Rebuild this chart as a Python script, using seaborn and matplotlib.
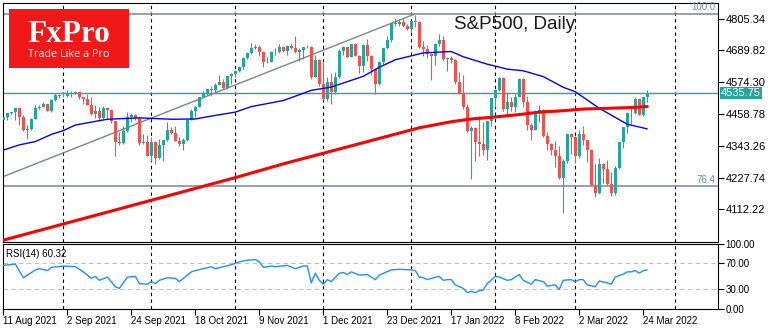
import matplotlib
matplotlib.use("Agg")
import matplotlib.pyplot as plt
import matplotlib.transforms as mtransforms
from matplotlib.patches import Rectangle
import numpy as np
import pandas as pd
import seaborn as sns

# ---------------- data ----------------
date_tick_idx = [0, 16, 32, 48, 64, 80, 96, 112, 128, 144, 160]
date_labels = ["11 Aug 2021", "2 Sep 2021", "24 Sep 2021", "18 Oct 2021", "9 Nov 2021",
               "1 Dec 2021", "23 Dec 2021", "17 Jan 2022", "8 Feb 2022", "2 Mar 2022",
               "24 Mar 2022"]
month_sep_idx = [15, 37, 58, 80, 102, 123, 143, 168]

opens = [4437, 4448, 4461, 4468, 4480, 4448, 4400, 4406, 4442, 4480,
         4486, 4496, 4470, 4509, 4529, 4523, 4524, 4537, 4535, 4538,
         4520, 4514, 4493, 4459, 4469, 4443, 4481, 4474, 4433, 4358,
         4354, 4396, 4449, 4455, 4443, 4353, 4359, 4308, 4357, 4300,
         4346, 4364, 4400, 4391, 4361, 4351, 4364, 4438, 4471, 4486,
         4520, 4536, 4550, 4545, 4566, 4575, 4552, 4596, 4605, 4614,
         4631, 4661, 4680, 4698, 4702, 4685, 4647, 4649, 4683, 4683,
         4701, 4689, 4705, 4698, 4683, 4691, 4701, 4704, 4595, 4655,
         4567, 4513, 4577, 4538, 4592, 4687, 4701, 4667, 4712, 4669,
         4634, 4710, 4669, 4621, 4568, 4649, 4697, 4726, 4791, 4786,
         4793, 4779, 4766, 4797, 4794, 4701, 4696, 4677, 4670, 4713,
         4726, 4659, 4663, 4655, 4577, 4533, 4483, 4398, 4410, 4356,
         4350, 4327, 4432, 4516, 4547, 4589, 4477, 4501, 4484, 4522,
         4587, 4504, 4419, 4402, 4471, 4475, 4380, 4349, 4330, 4305,
         4226, 4289, 4385, 4374, 4306, 4387, 4363, 4329, 4201, 4171,
         4278, 4260, 4204, 4173, 4262, 4358, 4412, 4463, 4461, 4512,
         4456, 4520]
highs = [4449, 4462, 4468, 4480, 4480, 4454, 4419, 4444, 4490, 4493,
         4502, 4497, 4513, 4537, 4531, 4537, 4546, 4541, 4542, 4540,
         4522, 4530, 4520, 4493, 4486, 4487, 4486, 4476, 4435, 4395,
         4417, 4465, 4463, 4458, 4444, 4386, 4383, 4375, 4360, 4369,
         4366, 4430, 4412, 4416, 4375, 4373, 4440, 4476, 4489, 4520,
         4541, 4551, 4560, 4573, 4599, 4585, 4598, 4608, 4620, 4635,
         4663, 4683, 4718, 4715, 4709, 4688, 4665, 4688, 4697, 4715,
         4703, 4709, 4718, 4744, 4699, 4703, 4710, 4706, 4673, 4660,
         4653, 4595, 4608, 4613, 4694, 4705, 4703, 4714, 4716, 4672,
         4713, 4732, 4672, 4624, 4651, 4698, 4741, 4792, 4807, 4804,
         4809, 4787, 4797, 4819, 4798, 4725, 4708, 4680, 4714, 4749,
         4744, 4665, 4668, 4660, 4612, 4602, 4495, 4417, 4412, 4453,
         4429, 4433, 4517, 4550, 4595, 4592, 4540, 4522, 4531, 4590,
         4589, 4526, 4426, 4473, 4490, 4478, 4395, 4352, 4362, 4342,
         4295, 4385, 4389, 4378, 4401, 4417, 4365, 4331, 4277, 4299,
         4280, 4291, 4248, 4271, 4358, 4413, 4465, 4482, 4522, 4514,
         4521, 4546]
lows = [4436, 4436, 4459, 4438, 4418, 4398, 4368, 4402, 4440, 4478,
        4484, 4469, 4466, 4507, 4516, 4519, 4522, 4521, 4532, 4513,
        4494, 4492, 4457, 4446, 4435, 4438, 4444, 4428, 4306, 4348,
        4350, 4394, 4430, 4436, 4346, 4350, 4306, 4289, 4279, 4296,
        4290, 4362, 4386, 4361, 4342, 4330, 4362, 4436, 4447, 4484,
        4518, 4527, 4524, 4537, 4565, 4551, 4550, 4568, 4595, 4612,
        4621, 4659, 4678, 4694, 4671, 4631, 4645, 4648, 4673, 4679,
        4684, 4673, 4694, 4682, 4653, 4660, 4698, 4585, 4593, 4560,
        4510, 4505, 4495, 4532, 4590, 4675, 4666, 4665, 4668, 4607,
        4611, 4652, 4600, 4531, 4565, 4640, 4695, 4722, 4780, 4778,
        4775, 4765, 4758, 4774, 4699, 4671, 4663, 4582, 4638, 4707,
        4650, 4615, 4645, 4569, 4530, 4478, 4395, 4223, 4287, 4305,
        4310, 4292, 4414, 4484, 4544, 4470, 4452, 4471, 4465, 4520,
        4484, 4401, 4365, 4400, 4430, 4374, 4327, 4310, 4267, 4222,
        4101, 4280, 4315, 4280, 4300, 4346, 4285, 4200, 4158, 4170,
        4210, 4200, 4162, 4165, 4258, 4336, 4391, 4424, 4458, 4456,
        4453, 4501]
closes = [4448, 4461, 4468, 4480, 4448, 4400, 4406, 4442, 4480, 4486,
          4496, 4470, 4509, 4529, 4523, 4524, 4537, 4535, 4538, 4520,
          4514, 4493, 4459, 4469, 4443, 4481, 4474, 4433, 4358, 4354,
          4396, 4449, 4455, 4443, 4353, 4359, 4308, 4357, 4300, 4346,
          4364, 4400, 4391, 4361, 4351, 4364, 4438, 4471, 4486, 4520,
          4536, 4550, 4545, 4566, 4575, 4552, 4596, 4605, 4614, 4631,
          4661, 4680, 4698, 4702, 4685, 4647, 4649, 4683, 4683, 4701,
          4689, 4705, 4698, 4683, 4691, 4701, 4704, 4595, 4655, 4567,
          4513, 4577, 4538, 4592, 4687, 4701, 4667, 4712, 4669, 4634,
          4710, 4669, 4621, 4568, 4649, 4697, 4726, 4791, 4786, 4793,
          4779, 4766, 4797, 4794, 4701, 4696, 4677, 4670, 4713, 4726,
          4659, 4663, 4655, 4577, 4533, 4483, 4398, 4410, 4356, 4350,
          4327, 4432, 4516, 4547, 4589, 4477, 4501, 4484, 4522, 4587,
          4504, 4419, 4402, 4471, 4475, 4380, 4349, 4330, 4305, 4226,
          4289, 4385, 4374, 4306, 4387, 4363, 4329, 4201, 4171, 4278,
          4260, 4204, 4173, 4262, 4358, 4412, 4463, 4461, 4512, 4456,
          4520, 4536]

# moving averages (bar index, price)
ma_blue_idx = [0, 4, 8, 12, 15, 18, 24, 26, 34, 42, 48, 51, 58, 62, 70, 77, 82, 90,
               94, 98, 105, 112, 115, 121, 126, 130, 135, 140, 143, 149, 156, 161]
ma_blue_val = [4328, 4347, 4359, 4385, 4399, 4419, 4435, 4440, 4445, 4440, 4441, 4449,
               4466, 4486, 4508, 4545, 4557, 4596, 4629, 4656, 4681, 4686, 4667, 4640,
               4622, 4616, 4595, 4556, 4540, 4480, 4422, 4405]
ma_red_idx = [0, 58, 70, 104, 112, 117, 122, 129, 134, 140, 145, 156, 161]
ma_red_val = [4001, 4228, 4278, 4409, 4431, 4441, 4447, 4457, 4466, 4471, 4477, 4482, 4486]

# RSI(14)
rsi_idx = [0, 3, 5, 8, 9, 11, 12, 15, 18, 20, 22, 23, 24, 26, 28, 29, 31, 33, 34, 36,
           37, 38, 39, 41, 43, 44, 46, 47, 48, 50, 52, 53, 55, 57, 59, 61, 63, 64, 65, 67,
           68, 71, 73, 74, 75, 76, 77, 78, 79, 80, 81, 82, 84, 85, 86, 87, 89, 91, 93, 94,
           97, 99, 102, 103, 104, 105, 106, 107, 109, 110, 111, 112, 113, 115, 116, 117, 118, 119, 120, 121,
           123, 124, 126, 127, 129, 130, 132, 133, 135, 136, 138, 139, 140, 142, 143, 144, 145, 146, 148, 149,
           151, 152, 153, 155, 156, 157, 158, 159, 160, 161]
rsi_val = [67, 69, 48, 60, 62, 59, 64, 66, 65, 57, 47, 50, 44, 49, 34, 31.5, 49, 50, 39, 38,
           42, 39, 44, 48, 47, 42, 52, 57, 59, 62, 65, 62, 65, 68, 72.5, 75, 76, 72.5, 64, 66,
           65, 67, 62, 64, 66, 66, 40, 55, 44, 38, 45, 42, 55, 56, 53, 57, 52, 53, 45, 52,
           60, 61, 60, 59, 49, 48, 45, 47, 50, 44, 45, 45, 37, 31.5, 25, 27, 25, 28, 29, 39,
           50, 49, 44, 45, 53, 44, 38, 45, 42, 35, 37, 30, 44, 45, 42, 45, 45, 37, 34, 43,
           40, 38, 49, 53.5, 57, 57, 59, 55, 58.7, 60.32]

price_ticks = [4112.22, 4227.74, 4343.26, 4458.78, 4574.30, 4689.82, 4805.34]
last_price = 4535.75
fib_100 = 4821
fib_764 = 4198
trend_idx = [0, 102.5]
trend_val = [4232, 4820]

# ---------------- style ----------------
BULL = "#26A69A"
BEAR = "#EF5350"
GRAY = "#778899"

W, H = 770, 330
sns.set_theme(style="white")
plt.rcParams["font.family"] = ["Liberation Sans", "DejaVu Sans"]
plt.rcParams["axes.linewidth"] = 0.8
plt.rcParams["axes.edgecolor"] = "black"

fig = plt.figure(figsize=(W / 100, H / 100), dpi=100)
fig.patch.set_facecolor("white")


def px_axes(x0, y0, x1, y1):
    return fig.add_axes([x0 / W, 1 - y1 / H, (x1 - x0) / W, (y1 - y0) / H])


ax = px_axes(3, 2.5, 718, 241.5)
ax_r = px_axes(3, 244, 718, 308.8)
XLIM = (-0.1, 178.7)

# ---------------- main price panel ----------------
df = pd.DataFrame({"i": np.arange(len(closes)), "open": opens, "high": highs,
                   "low": lows, "close": closes})
up = df["close"] >= df["open"]
cols = np.where(up, BULL, BEAR)
ax.vlines(df["i"], df["low"], df["high"], colors=cols, lw=0.8, zorder=2)
body_bottom = np.minimum(df["open"], df["close"])
body_h = np.maximum((df["close"] - df["open"]).abs(), 2.0)
ax.bar(df["i"], body_h, bottom=body_bottom, width=0.72, color=cols, lw=0, zorder=3)

for v in month_sep_idx:
    ax.axvline(v, color="black", lw=0.8, ls=(0, (3, 3)), zorder=1)

ax.axhline(fib_100, color=GRAY, lw=1.1, zorder=1.5)
ax.axhline(fib_764, color=GRAY, lw=1.1, zorder=1.5)
ax.axhline(last_price, color=BULL, lw=1.0, zorder=1.5)
ax.plot(trend_idx, trend_val, color=GRAY, lw=1.0, zorder=1.6)

sns.lineplot(x=ma_blue_idx, y=ma_blue_val, ax=ax, color="#0000FF", lw=1.0, zorder=4)
sns.lineplot(x=ma_red_idx, y=ma_red_val, ax=ax, color="#FF0000", lw=2.2, zorder=4)

ax.set_xlim(*XLIM)
ax.set_ylim(3996, 4864)
ax.set_xticks([])
ax.yaxis.tick_right()
ax.set_yticks(price_ticks)
ax.set_yticklabels([f"{t:.2f}" for t in price_ticks])
ax.tick_params(axis="y", which="both", right=True, left=False, length=4, width=0.8,
               pad=1.5, labelsize=8, colors="black", direction="out")
ax.set_xlabel("")
ax.set_ylabel("")
for s in ax.spines.values():
    s.set_visible(True)
    s.set_color("black")
    s.set_linewidth(0.8)

trans = mtransforms.blended_transform_factory(ax.transAxes, ax.transData)
ax.text(1.004, last_price, f"{last_price:.2f}", transform=trans, ha="left", va="center",
        fontsize=8, color="white", clip_on=False, zorder=10,
        bbox=dict(boxstyle="square,pad=0.12", fc=BULL, ec="none"))
ax.text(0.9958, 4836, "100.0", transform=trans, ha="right", va="baseline",
        fontsize=7, color=GRAY)
ax.text(0.9958, 4208, "76.4", transform=trans, ha="right", va="baseline",
        fontsize=7, color=GRAY)

# ---------------- RSI panel ----------------
for v in month_sep_idx:
    ax_r.axvline(v, color="black", lw=0.8, ls=(0, (3, 3)), zorder=1)
ax_r.axhline(70, color="#C0C0C0", lw=0.8, ls=(0, (4, 3)), zorder=1)
ax_r.axhline(30, color="#C0C0C0", lw=0.8, ls=(0, (4, 3)), zorder=1)
sns.lineplot(x=rsi_idx, y=rsi_val, ax=ax_r, color="#1E90FF", lw=1.0, zorder=3)
ax_r.set_xlim(*XLIM)
ax_r.set_ylim(0, 100)
ax_r.yaxis.tick_right()
ax_r.set_yticks([0, 30, 70, 100])
ax_r.set_yticklabels(["0.00", "30.00", "70.00", "100.00"])
ax_r.tick_params(axis="y", which="both", right=True, left=False, length=4, width=0.8,
                 pad=1.5, labelsize=7, colors="black", direction="out")
ax_r.set_xticks(date_tick_idx)
ax_r.set_xticklabels(date_labels, ha="left")
ax_r.tick_params(axis="x", which="both", bottom=True, length=4, width=0.8, pad=1.5,
                 labelsize=7, colors="black", direction="out")
ax_r.set_xlabel("")
ax_r.set_ylabel("")
for s in ax_r.spines.values():
    s.set_visible(True)
    s.set_color("black")
    s.set_linewidth(0.8)
ax_r.text(0.0045, 0.80, f"RSI(14) {rsi_val[-1]:.2f}", transform=ax_r.transAxes,
          ha="left", va="baseline", fontsize=7, color="black")

# ---------------- title & logo ----------------
fig.text(454 / W, 1 - 29 / H, "S&P500, Daily", fontsize=13.5, color="#1a1a1a",
         ha="left", va="baseline")
fig.patches.append(Rectangle((9 / W, 1 - 68 / H), 120 / W, 59 / H, transform=fig.transFigure,
                             fc="#F01818", ec="none", zorder=20))
fig.text(69 / W, 1 - 41.7 / H, "FxPro", fontsize=22.5, color="white", ha="center",
         va="baseline", fontweight="bold", family=["Liberation Serif", "DejaVu Serif"], zorder=21)
fig.text(69 / W, 1 - 57.3 / H, "Trade Like a Pro", fontsize=7.8, color="white",
         ha="center", va="baseline", family=["Open Sans", "DejaVu Sans"], zorder=21)

fig.savefig("out.png", dpi=100, facecolor="white")
